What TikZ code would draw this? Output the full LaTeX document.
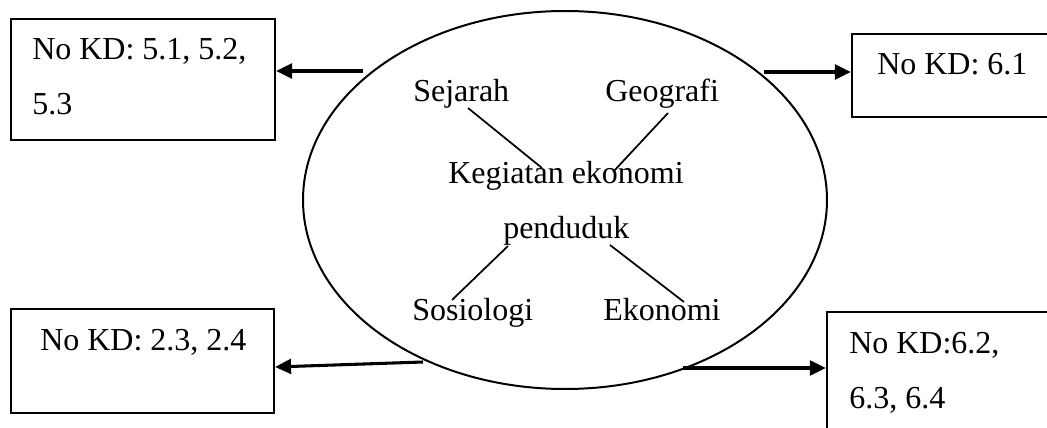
\documentclass[tikz,border=0pt]{standalone}
\usepackage{fontspec}
\setmainfont{Liberation Serif}
\usetikzlibrary{arrows.meta,shapes.geometric,calc}
\begin{document}
\begin{tikzpicture}[x=0.75pt,y=-0.75pt,
  lbl/.style={inner sep=0pt, anchor=base west, font=\fontsize{24pt}{28pt}\selectfont},
  kbox/.style={draw, line width=1.6pt, inner sep=0pt},
  arr/.style={line width=2.3pt, -{Triangle[length=12pt,width=11pt]}},
  link/.style={line width=1.3pt}]
\useasboundingbox (0,0) rectangle (1047,428);
\clip (0,0) rectangle (1047,428);

% central topic
\node[draw, ellipse, line width=1.5pt, minimum width=393pt, minimum height=283.5pt, inner sep=0pt] (ell) at (565,200) {};

% KD boxes
\node[kbox, minimum width=198pt, minimum height=90.75pt] (kd5) at (143,79.5) {};
\node[kbox, minimum width=156pt, minimum height=62.25pt] (kd6) at (956,75.5) {};
\node[kbox, minimum width=197.25pt, minimum height=78pt] (kd2) at (142.5,361) {};
\node[kbox, minimum width=174.75pt, minimum height=96pt] (kd7) at (943.5,376) {};

\node[lbl] (kd5a) at (32,60) {No KD: 5.1, 5.2,};
\node[lbl] (kd5b) at (32,115) {5.3};
\node[lbl] (kd6a) at (877,75) {No KD: 6.1};
\node[lbl] (kd2a) at (40,350) {No KD: 2.3, 2.4};
\node[lbl] (kd7a) at (849,353) {No KD:6.2,};
\node[lbl] (kd7b) at (849,408) {6.3, 6.4};

% subjects inside the ellipse
\node[lbl] (sej) at (413,102) {Sejarah};
\node[lbl] (geo) at (605,102) {Geografi};
\node[lbl] (keg) at (448,183) {Kegiatan ekonomi};
\node[lbl] (pen) at (503,238) {penduduk};
\node[lbl] (sos) at (412,320) {Sosiologi};
\node[lbl] (eko) at (603,320) {Ekonomi};

% links between subjects and the theme
\coordinate (s1) at (468,108); \coordinate (s2) at (542,168);
\coordinate (g1) at (668,113); \coordinate (g2) at (613,172);
\coordinate (p1) at (508,246); \coordinate (p2) at (452,300);
\coordinate (e1) at (610,245); \coordinate (e2) at (684,302);
\draw[link] (s1) -- (s2);
\draw[link] (g1) -- (g2);
\draw[link] (p1) -- (p2);
\draw[link] (e1) -- (e2);

% arrows to the KD boxes
\coordinate (a5) at (363,71);
\coordinate (a6) at (764,72);
\coordinate (a2) at (423,362);
\coordinate (a7) at (683,368);
\draw[arr] (a5) -- (a5 -| kd5.east);
\draw[arr] (a6) -- (a6 -| kd6.west);
\draw[arr] (a2) -- ($(kd2.east)+(0,6)$);
\draw[arr] (a7) -- (a7 -| kd7.west);
\end{tikzpicture}
\end{document}
